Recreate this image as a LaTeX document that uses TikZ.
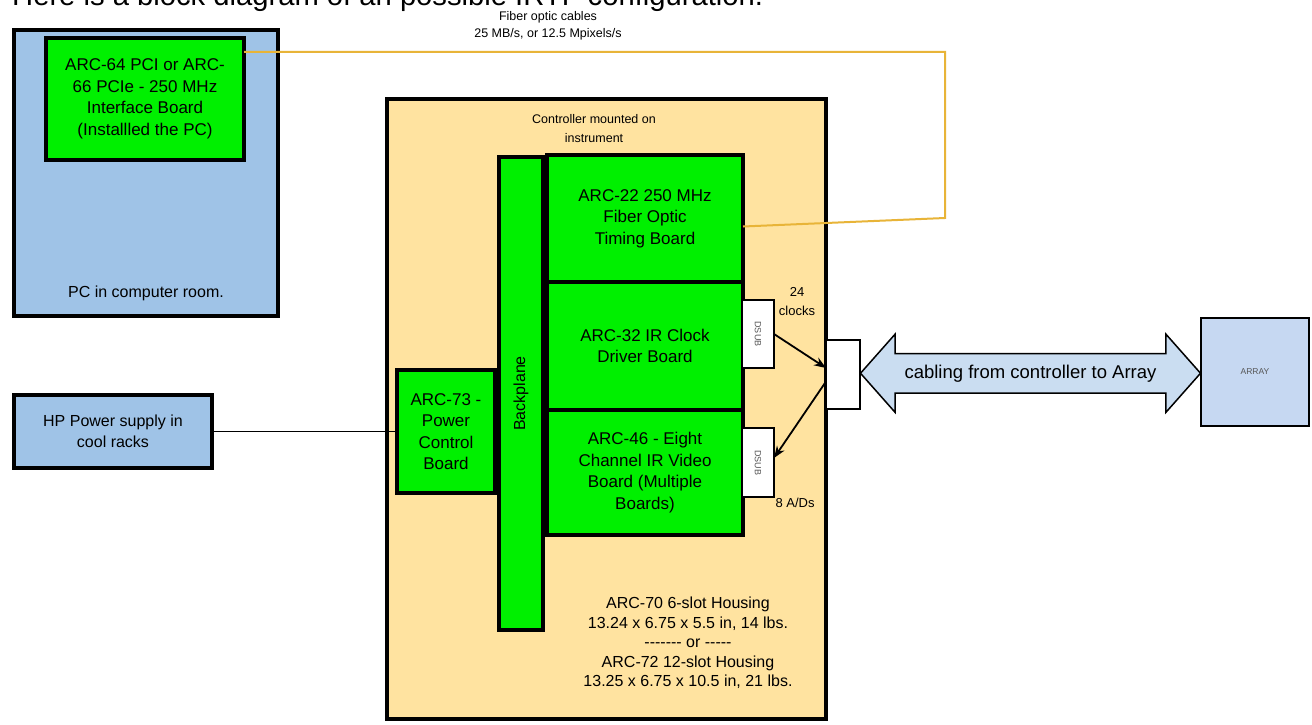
\documentclass[tikz,border=0pt]{standalone}
\usepackage{fontspec}
\setmainfont{Liberation Sans}
\usetikzlibrary{shapes.arrows,arrows.meta,calc}
\definecolor{pcblue}{HTML}{9FC3E7}
\definecolor{boardgreen}{HTML}{00F000}
\definecolor{ctrlfill}{HTML}{FFE3A0}
\definecolor{cablefill}{HTML}{CADDF1}
\definecolor{arrayfill}{HTML}{C6D8F2}
\definecolor{fiber}{HTML}{E8B438}
\definecolor{smallgray}{HTML}{555555}
\newcommand\fsz[2]{\fontsize{#1}{#2}\selectfont}
\begin{document}
\begin{tikzpicture}[x=1pt,y=-1pt,
  thickbox/.style={draw=black,line width=4pt,inner sep=0pt,outer sep=0pt},
  bluebox/.style={thickbox,fill=pcblue,align=center,font=\fsz{16}{21}},
  boardbox/.style={thickbox,fill=boardgreen,align=center,font=\fsz{17}{21.5}},
  thinbox/.style={draw=black,line width=1.3pt,fill=white,inner sep=0pt,outer sep=0pt},
  plain/.style={inner sep=0pt,align=center},
  wire/.style={draw=black,line width=1.6pt},
  sig/.style={draw=black,line width=1.8pt,-{Stealth[length=12pt,width=9pt]}},
  fibre/.style={draw=fiber,line width=2pt},
]
\useasboundingbox (0,0) rectangle (1312,725);
\fill[white] (0,0) rectangle (1312,725);

% title (cut off at the top)
\node[anchor=base west,inner sep=0pt,font=\fsz{29.2}{35}] (title) at (12,6)
  {Here is a block diagram of an possible IRTF configuration.};

% PC
\node[bluebox,minimum width=264pt,minimum height=286pt] (pc) at (146,173) {};
\node[boardbox,minimum width=198pt,minimum height=122pt] (pcboard) at (145,99)
  {ARC-64 PCI or ARC-\\66 PCIe - 250 MHz\\Interface Board\\(Installled the PC)};
\node[plain,font=\fsz{16}{21}] (pclabel) at (146,293) {PC in computer room.};

% HP power supply
\node[bluebox,minimum width=198pt,minimum height=73pt] (hp) at (113,431.5)
  {HP Power supply in\\cool racks};

% controller housing
\node[thickbox,fill=ctrlfill,minimum width=439pt,minimum height=620pt] (ctrl) at (606.5,409) {};
\node[plain,font=\fsz{12.5}{19}] (ctrltitle) at (594,128.5) {Controller mounted on\\instrument};

% boards
\node[boardbox,rotate=90,minimum width=473pt,minimum height=44pt,font=\fsz{16}{20}] (bp) at (521,393.5) {Backplane};
\node[boardbox,minimum width=196pt,minimum height=127pt] (arc22) at (645,218.5)
  {ARC-22 250 MHz\\Fiber Optic\\Timing Board};
\node[boardbox,minimum width=196pt,minimum height=128pt] (arc32) at (645,346)
  {ARC-32 IR Clock\\Driver Board};
\node[boardbox,minimum width=196pt,minimum height=125pt] (arc46) at (645,472.5)
  {ARC-46 - Eight\\Channel IR Video\\Board (Multiple\\Boards)};
\node[boardbox,minimum width=98pt,minimum height=123pt] (arc73) at (446,431.5)
  {ARC-73 -\\Power\\Control\\Board};

% DSUB connectors
\node[thinbox,rotate=-90,minimum width=68pt,minimum height=32pt,font=\fsz{9}{10},text=smallgray] (dsubA) at (758,334) {DSUB};
\node[thinbox,rotate=-90,minimum width=69pt,minimum height=32pt,font=\fsz{9}{10},text=smallgray] (dsubB) at (758,462.5) {DSUB};
\node[plain,font=\fsz{13}{19}] (clk) at (797,302) {24\\clocks};
\node[plain,font=\fsz{13}{16}] (ads) at (795,503) {8 A/Ds};

% housing description
\node[plain,font=\fsz{16}{19.4}] (housing) at (688,643)
  {ARC-70 6-slot Housing\\13.24 x 6.75 x 5.5 in, 14 lbs.\\-{}-{}-{}-{}-{}-{}- or -{}-{}-{}-{}-\\ARC-72 12-slot Housing\\13.25 x 6.75 x 10.5 in, 21 lbs.};

% connector on housing and array
\node[thinbox,minimum width=34pt,minimum height=69pt] (conn) at (843,374.5) {};
\node[draw=black,line width=1.5pt,fill=arrayfill,minimum width=108pt,minimum height=108pt,inner sep=0pt,outer sep=0pt,font=\fsz{8.5}{9},text=smallgray] (array) at (1255,372) {ARRAY};

% cabling double arrow
\node[double arrow,draw=black,line width=1.5pt,fill=cablefill,
  double arrow head extend=19.5pt,double arrow tip angle=97,
  inner xsep=0pt,inner ysep=10.3pt,text height=13.5pt,text depth=3.9pt,
  minimum height=340pt,outer sep=0pt,font=\fsz{18.5}{22}] (cab)
  at ($(conn.east)!0.5!(array.west)$) {cabling from controller to Array};

% fibre optic cable
\coordinate (f1) at (945,52);
\coordinate (f2) at (945,218);
\draw[fibre] ([yshift=-14pt]pcboard.north east) -- (f1) -- (f2) -- ([yshift=-8pt]arc22.east);
\node[plain,font=\fsz{12.5}{17.5}] (fibtxt) at (548,26) {Fiber optic cables\\25 MB/s, or 12.5 Mpixels/s};

% power wire
\draw[wire] (hp.east) -- (arc73.west);

% signal arrows
\draw[sig] (dsubA.north) -- ([yshift=6.5pt]conn.west);
\draw[sig] ([yshift=-7pt]conn.west) -- ([yshift=4.5pt]dsubB.north);
\end{tikzpicture}
\end{document}
